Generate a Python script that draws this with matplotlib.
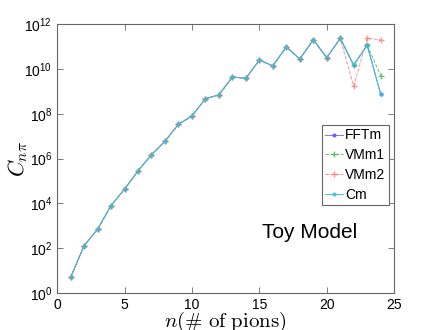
import numpy as np
import matplotlib
matplotlib.use("Agg")
import matplotlib.pyplot as plt

plt.rcParams['font.family'] = ['Liberation Sans', 'DejaVu Sans']
plt.rcParams['mathtext.fontset'] = 'cm'

# data
n = np.arange(1, 25)
fftm = [5, 130, 700, 8e3, 4.3e4, 2.8e5, 1.5e6, 5.9e6, 3.4e7, 7.9e7, 4.7e8, 6.9e8,
        4.4e9, 3.8e9, 2.5e10, 1.36e10, 9.6e10, 2.75e10, 2.0e11, 3.2e10, 2.3e11,
        1.47e10, 1.15e11, 7.6e8]
vmm1 = fftm[:23] + [5e9]
vmm2 = fftm[:21] + [1.7e9, 2.3e11, 2.0e11]
cm = list(fftm)

xticks = [0, 5, 10, 15, 20, 25]
yexps = [0, 2, 4, 6, 8, 10, 12]

fig = plt.figure(figsize=(4.36, 3.3), dpi=100)
ax = fig.add_axes([0.131, 0.112, 0.773, 0.815])

ax.semilogy(n, fftm, '-', color=(0.35, 0.35, 1.0), marker='.', ms=4, lw=0.7,
            alpha=0.8, label='FFTm')
ax.semilogy(n, vmm1, '--', color=(0.2, 0.65, 0.2), marker='+', ms=4, lw=0.7,
            alpha=0.7, label='VMm1')
ax.semilogy(n, vmm2, '--', color=(1.0, 0.4, 0.4), marker='+', ms=4, lw=0.7,
            alpha=0.7, label='VMm2')
ax.semilogy(n, cm, '-', color=(0.25, 0.75, 0.85), marker='o', ms=2, mfc='none',
            lw=0.8, alpha=0.9, label='Cm')

ax.set_xlim(0, 25)
ax.set_ylim(1, 1e12)
ax.set_xticks(xticks)
ax.set_xticklabels([str(t) for t in xticks])
ax.set_yticks([10.0 ** e for e in yexps])
ax.set_yticklabels([r'$\mathregular{10^{%d}}$' % e for e in yexps])
ax.minorticks_off()
ax.tick_params(direction='in', top=True, right=True, labelsize=10, length=4,
               color='0.4', width=0.6)
for s in ax.spines.values():
    s.set_color('0.4')
    s.set_linewidth(0.8)

ax.set_xlabel(r'$n(\#\ \mathrm{of\ pions})$', fontsize=15, labelpad=-1.5)
ax.set_ylabel(r'$C_{n\pi}$', fontsize=16)
ax.yaxis.set_label_coords(-0.08, 0.5)

ax.text(18.7, 5e2, 'Toy Model', fontsize=15, ha='center', va='center')

leg = ax.legend(loc='upper right', bbox_to_anchor=(0.985, 0.625), fontsize=10,
                fancybox=False, framealpha=1, edgecolor='0.4', handlelength=1.3,
                handletextpad=0.15, borderpad=0.25, labelspacing=0.42,
                borderaxespad=0)
leg.get_frame().set_linewidth(0.8)

fig.savefig('out.png', dpi=100)
